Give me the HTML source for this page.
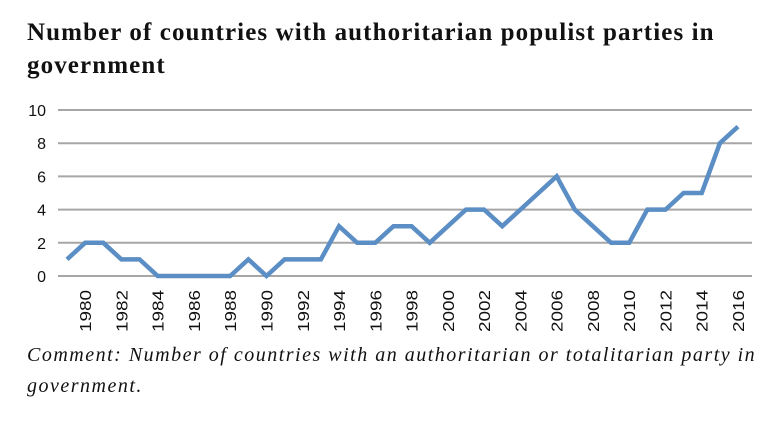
<!DOCTYPE html>
<html><head><meta charset="utf-8"><style>
html,body{margin:0;padding:0;background:#fff;width:770px;height:422px;overflow:hidden}
.title{position:absolute;left:27px;top:16px;font:bold 25px/33px "Liberation Serif",serif;letter-spacing:1.1px;color:#111;width:730px}
.comment{position:absolute;left:27px;top:340px;font:italic 20px/31px "Liberation Serif",serif;letter-spacing:1.5px;color:#111;width:740px}
svg{position:absolute;left:0;top:0}
</style></head><body>
<div class="title">Number of countries with authoritarian populist parties in government</div>
<svg width="770" height="422" id="chart"></svg>
<div class="comment">Comment: Number of countries with an authoritarian or totalitarian party in government.</div>
<script>
const years=[1979,1980,1981,1982,1983,1984,1985,1986,1987,1988,1989,1990,1991,1992,1993,1994,1995,1996,1997,1998,1999,2000,2001,2002,2003,2004,2005,2006,2007,2008,2009,2010,2011,2012,2013,2014,2015,2016];
const counts=[1,2,2,1,1,0,0,0,0,0,1,0,1,1,1,3,2,2,3,3,2,3,4,4,3,4,5,6,4,3,2,2,4,4,5,5,8,9];
const yTicks=[0,2,4,6,8,10];
const xLabels=[1980,1982,1984,1986,1988,1990,1992,1994,1996,1998,2000,2002,2004,2006,2008,2010,2012,2014,2016];
const NS="http://www.w3.org/2000/svg";
const svg=document.getElementById('chart');
const x=y=>67+(y-1979)*(671/37);
const yS=v=>276-v*16.6;
function mk(t,a){const e=document.createElementNS(NS,t);for(const k in a)e.setAttribute(k,a[k]);svg.appendChild(e);return e;}
yTicks.forEach(v=>{
  const l=mk('line',{x1:58,x2:752,y1:yS(v),y2:yS(v),stroke:'#a6a6a6','stroke-width':2});
  
  
  const t=mk('text',{x:46,y:yS(v)+6,'text-anchor':'end','font-family':'Liberation Sans, sans-serif','font-size':16,fill:'#111'});
  t.textContent=v;
  
  
});
xLabels.forEach(yr=>{
  const cx=x(yr)+6, cy=290;
  const t=mk('text',{x:cx,y:cy,'text-anchor':'end','font-family':'Liberation Sans, sans-serif','font-size':16,fill:'#111',transform:`rotate(-90 ${cx} ${cy})`,'textLength':42,'lengthAdjust':'spacingAndGlyphs'});
  t.textContent=yr;
  
  
});
const p=mk('polyline',{points:years.map((yr,i)=>x(yr)+','+yS(counts[i])).join(' '),fill:'none',stroke:'#5b8ec4','stroke-width':4.5,'stroke-linejoin':'miter'});


</script>
</body></html>
